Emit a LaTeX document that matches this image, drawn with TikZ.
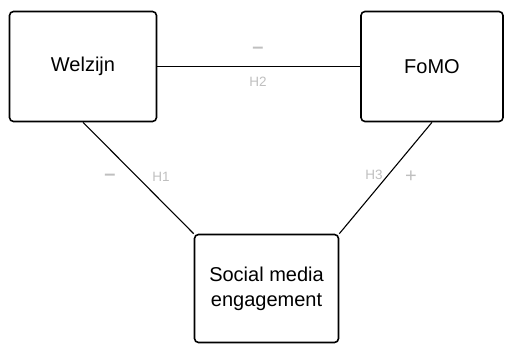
\documentclass[tikz,border=0pt]{standalone}
\usepackage{fontspec}
\setmainfont{Liberation Sans}
\usetikzlibrary{positioning}

\begin{document}
\begin{tikzpicture}[x=1pt,y=-1pt]
			\tikzstyle{varbox} = [draw, line width=1.6pt, rounded corners=4pt, align=center, font=\fontsize{20}{25}\selectfont]
			\tikzstyle{myedgestyle} = [line width=1.1pt]
			\tikzstyle{hyplabel} = [text=black!25, font=\fontsize{13.5}{16}\selectfont]
			\tikzstyle{signlabel} = [text=black!25, font=\fontsize{20}{24}\selectfont]
			\useasboundingbox (0,0) rectangle (505,345);
			
			\node [varbox, minimum width=147pt, minimum height=110pt] (W) at (83,66.5) {Welzijn};
			\node [varbox, minimum width=142pt, minimum height=110pt] (F) at (432,66.5) {FoMO};
			\node [varbox, minimum width=144pt, minimum height=108pt] (S) at (266.5,288.5) {Social media\\engagement};
			
			\node [signlabel, font=\fontsize{20}{24}\selectfont\bfseries] (M2) at (258,50) {–};
			\node [hyplabel] (H2) at (258,82) {H2};
			\node [signlabel, font=\fontsize{20}{24}\selectfont\bfseries] (M1) at (110,177) {–};
			\node [hyplabel] (H1) at (161,177) {H1};
			\node [hyplabel] (H3) at (374,175) {H3};
			\node [signlabel] (P3) at (411,177) {+};
			
			\draw [myedgestyle] (W) -- (F);
			\draw [myedgestyle] (W.south) -- (S.north west);
			\draw [myedgestyle] (F.south) -- (S.north east);
			
\end{tikzpicture}
\end{document}
